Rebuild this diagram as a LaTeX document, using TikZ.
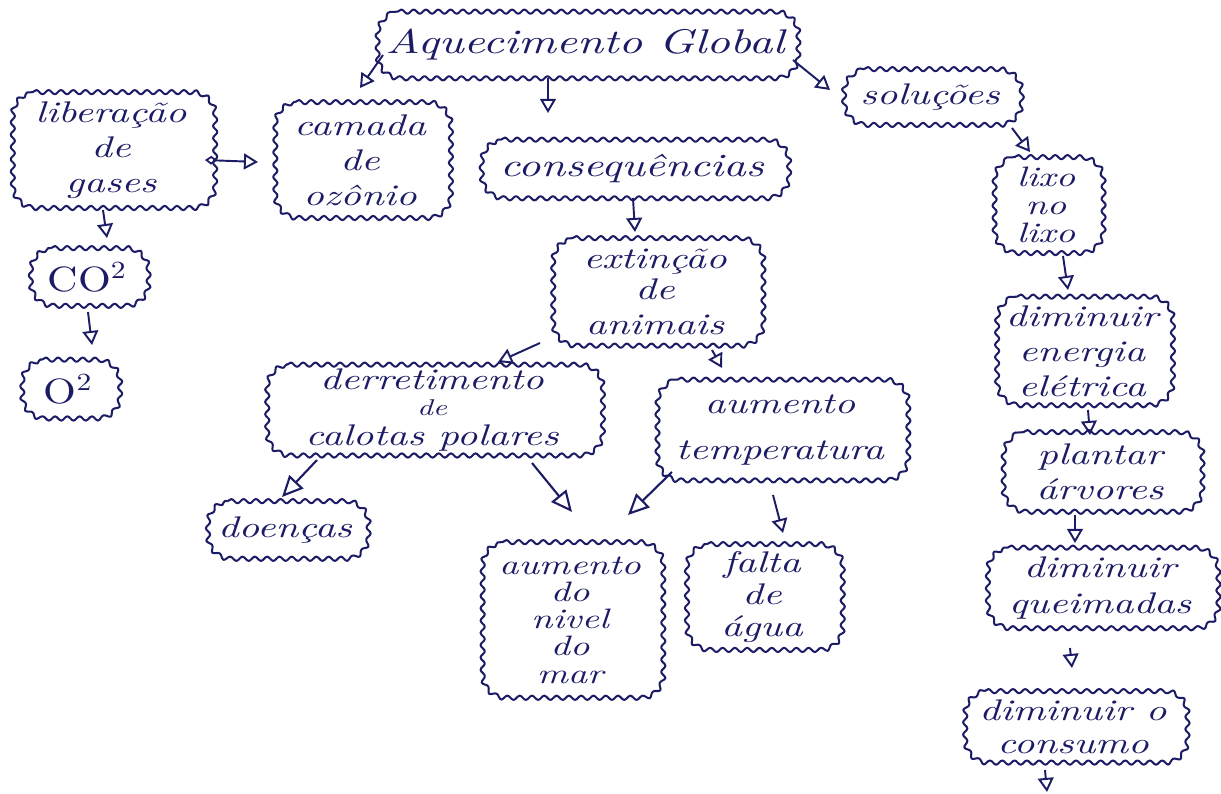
\documentclass[tikz,border=0pt]{standalone}
\usepackage{fontspec}
\usetikzlibrary{arrows.meta,decorations.pathmorphing}
\newfontfamily\hand{lmroman10-italic}[Extension=.otf, FakeStretch=1.35]
\newfontfamily\handup{lmroman10-regular}[Extension=.otf, FakeStretch=1.2]
\definecolor{ink}{HTML}{1C1C66}
\begin{document}
\begin{tikzpicture}[x=0.02cm,y=0.02cm,
  cloud/.style={text=ink, align=center, inner sep=0pt,
    font=\fontsize{17}{18}\selectfont\hand},
  outline/.style={draw=ink, line width=1.15pt, line join=round,
    decorate, decoration={snake, segment length=7pt, amplitude=1.2pt}},
  link/.style={draw=ink, line width=1.1pt,
    -{Triangle[open, length=8pt, width=9pt, line width=1.1pt]}},
  biglink/.style={draw=ink, line width=1.2pt,
    -{Triangle[open, length=12pt, width=11pt, line width=1.2pt]}}]
\useasboundingbox (0,0) rectangle (1221,-794);
\fill[white] (0,0) rectangle (1221,-794);

% title
\node[cloud, minimum width=8.4cm, minimum height=1.32cm, font=\fontsize{19.5}{22}\selectfont\hand] (title) at (585,-45) {Aquecimento Global};

% left branch
\node[cloud, minimum width=4.04cm, minimum height=2.3cm] (lib) at (111,-150) {liberação\\[2pt] de\\[2pt] gases};
\node[cloud, minimum width=3.5cm, minimum height=2.3cm] (cam) at (360,-160) {camada\\[2pt] de\\[2pt] ozônio};
\node[cloud, minimum width=2.34cm, minimum height=1.14cm, font=\fontsize{20}{22}\selectfont\handup] (co2) at (87,-277) {CO\textsuperscript{2}};
\node[cloud, minimum width=1.94cm, minimum height=1.16cm, font=\fontsize{20}{22}\selectfont\handup] (o2) at (68,-389) {O\textsuperscript{2}};

% consequences
\node[cloud, minimum width=6.14cm, minimum height=1.16cm, font=\fontsize{18.5}{20}\selectfont\hand] (cons) at (632,-169) {consequências};
\node[cloud, minimum width=4.2cm, minimum height=2.14cm] (ext) at (655,-292) {extinção\\ de\\[2pt] animais};
\node[cloud, minimum width=6.7cm, minimum height=1.8cm] (derr) at (432,-410) {derretimento\\[-3pt] {\fontsize{13}{13}\selectfont de}\\[-1pt] calotas polares};
\node[cloud, minimum width=5.0cm, minimum height=2.0cm] (temp) at (780,-430) {aumento\\[8pt] temperatura};
\node[cloud, minimum width=3.2cm, minimum height=1.14cm] (doen) at (285,-530) {doenças};
\node[cloud, minimum width=3.6cm, minimum height=3.1cm, font=\fontsize{16}{15.5}\selectfont\hand] (nivel) at (570,-620) {aumento\\ do\\ nivel\\ do\\ mar};
\node[cloud, minimum width=3.1cm, minimum height=2.1cm] (falta) at (762,-597) {falta\\ de\\ água};

% solutions
\node[cloud, minimum width=3.54cm, minimum height=1.1cm] (sol) at (930,-97) {soluções};
\node[cloud, minimum width=2.16cm, minimum height=1.9cm, font=\fontsize{16}{16}\selectfont\hand] (lixo) at (1046,-205) {lixo\\ no\\ lixo};
\node[cloud, minimum width=3.5cm, minimum height=2.16cm] (ener) at (1082,-351) {diminuir\\[2pt] energia\\[2pt] elétrica};
\node[cloud, minimum width=3.96cm, minimum height=1.58cm] (plan) at (1100,-472) {plantar\\[2pt] árvores};
\node[cloud, minimum width=4.6cm, minimum height=1.6cm] (queim) at (1100,-588) {diminuir\\[2pt] queimadas};
\node[cloud, minimum width=4.44cm, minimum height=1.42cm] (cmo) at (1073,-727) {diminuir o\\[1pt] consumo};
\coordinate (tail) at (1047,-792);

% wavy rounded outlines round every box
\foreach \n in {title,lib,cam,co2,o2,cons,ext,derr,temp,doen,nivel,falta,sol,lixo,ener,plan,queim,cmo}{
  \draw[outline]
    ([xshift=13pt]\n.north west) -- ([xshift=-13pt]\n.north east)
    arc[start angle=90, end angle=0, radius=13pt]
    -- ([yshift=13pt]\n.south east)
    arc[start angle=0, end angle=-90, radius=13pt]
    -- ([xshift=13pt]\n.south west)
    arc[start angle=-90, end angle=-180, radius=13pt]
    -- ([yshift=-13pt]\n.north west)
    arc[start angle=180, end angle=90, radius=13pt] -- cycle;
}

% connectors
\draw[link] ([shift={(-202,-10)}]title.center) -- ([shift={(0,72)}]cam.center);
\draw[link] ([shift={(-37,-33)}]title.center) -- ([shift={(-84,56)}]cons.center);
\draw[link] ([shift={(208,-15)}]title.center) -- ([shift={(-100,7)}]sol.center);
\draw[draw=ink, line width=1.1pt,
  {Diamond[open, length=7pt, width=5pt, line width=1pt]}-{Triangle[open, length=8pt, width=9pt, line width=1.1pt]}]
  ([shift={(94,-10)}]lib.center) -- ([shift={(-102,-2)}]cam.center);
\draw[link] ([shift={(-8,-60)}]lib.center) -- ([shift={(20,39)}]co2.center);
\draw[link] ([shift={(1,-35)}]co2.center) -- ([shift={(24,44)}]o2.center);
\draw[link] ([shift={(1,-29)}]cons.center) -- ([shift={(-20,60)}]ext.center);
\draw[link] ([shift={(-115,-51)}]ext.center) -- ([shift={(66,48)}]derr.center);
\draw[link] ([shift={(57,-58)}]ext.center) -- ([shift={(-58,62)}]temp.center);
\draw[biglink] ([shift={(-115,-50)}]derr.center) -- ([shift={(-3,33)}]doen.center);
\draw[biglink] ([shift={(100,-53)}]derr.center) -- ([shift={(2,108)}]nivel.center);
\draw[biglink] ([shift={(-108,-42)}]temp.center) -- ([shift={(58,105)}]nivel.center);
\draw[link] ([shift={(-7,-65)}]temp.center) -- ([shift={(21,64)}]falta.center);
\draw[link] ([shift={(82,-31)}]sol.center) -- ([shift={(-16,53)}]lixo.center);
\draw[link] ([shift={(17,-51)}]lixo.center) -- ([shift={(-14,61)}]ener.center);
\draw[link] ([shift={(6,-59)}]ener.center) -- ([shift={(-10,37)}]plan.center);
\draw[link] ([shift={(-25,-43)}]plan.center) -- ([shift={(-25,45)}]queim.center);
\draw[link] ([shift={(-30,-60)}]queim.center) -- ([shift={(-1,59)}]cmo.center);
\draw[link] ([shift={(-28,-43)}]cmo.center) -- (tail);
\end{tikzpicture}
\end{document}
